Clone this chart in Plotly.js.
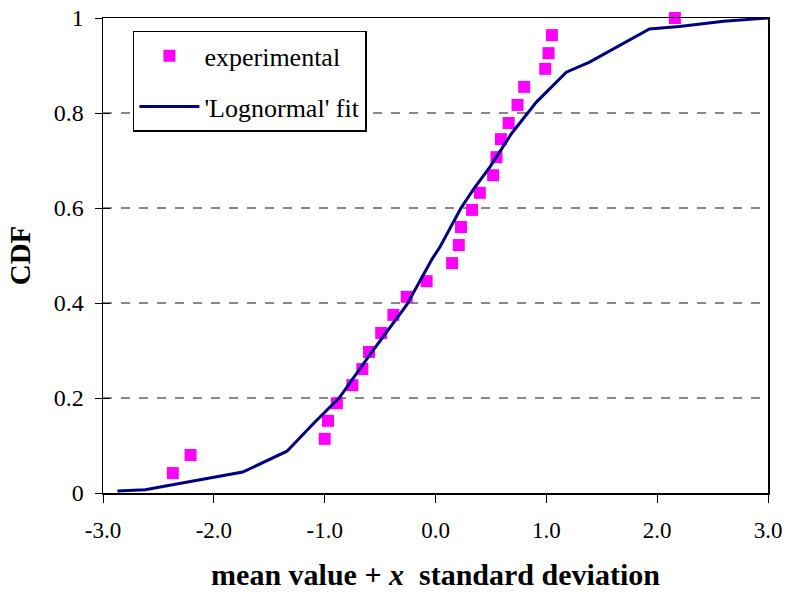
<!DOCTYPE html>
<html>
<head>
<meta charset="utf-8">
<script src="https://cdn.plot.ly/plotly-3.0.1.min.js"></script>
<style>html,body{margin:0;padding:0;background:#fff;}#chart{width:786px;height:598px;}</style>
</head>
<body>
<div id="chart"></div>
<script>
// Experimental points
var expX = [-2.37, -2.21, -1.00, -0.97, -0.89, -0.75, -0.66, -0.60, -0.49, -0.38, -0.26, -0.08, 0.15, 0.21, 0.23, 0.33, 0.40, 0.52, 0.55, 0.59, 0.66, 0.74, 0.80, 0.99, 1.02, 1.05, 2.16];
var expY = [0.042, 0.080, 0.114, 0.152, 0.189, 0.227, 0.261, 0.297, 0.337, 0.375, 0.413, 0.446, 0.484, 0.522, 0.560, 0.596, 0.632, 0.669, 0.707, 0.745, 0.779, 0.817, 0.855, 0.893, 0.926, 0.964, 1.000];
// 'Lognormal' fit
var fitX = [-2.87, -2.62, -1.74, -1.34, -1.09, -0.87, -0.58, -0.26, -0.03, 0.04, 0.23, 0.35, 0.49, 0.69, 0.91, 1.18, 1.39, 1.93, 2.20, 2.60, 3.00];
var fitY = [0.004, 0.007, 0.044, 0.088, 0.149, 0.200, 0.295, 0.396, 0.493, 0.518, 0.600, 0.642, 0.686, 0.758, 0.823, 0.886, 0.907, 0.977, 0.982, 0.993, 1.000];
// Ticks
var xTickVals = [-3, -2, -1, 0, 1, 2, 3];
var xTickText = ["-3.0", "-2.0", "-1.0", "0.0", "1.0", "2.0", "3.0"];
var yTickVals = [0, 0.2, 0.4, 0.6, 0.8, 1];
var yTickText = ["0", "0.2", "0.4", "0.6", "0.8", "1"];

var serif = '"Liberation Serif", serif';
var traces = [
  {x: expX, y: expY, type: "scatter", mode: "markers", name: "experimental", legendgroup: "a",
   marker: {symbol: "square", size: 12, color: "#FF00FF"}, cliponaxis: false},
  {x: fitX, y: fitY, type: "scatter", mode: "lines", name: "'Lognormal' fit", legendgroup: "b",
   line: {color: "#000080", width: 3}},
  {x: [], y: [], type: "scatter", mode: "lines", yaxis: "y2", showlegend: false, hoverinfo: "skip"}
];
var layout = {
  width: 786, height: 598,
  margin: {l: 103, r: 18, t: 18, b: 105},
  paper_bgcolor: "#fff", plot_bgcolor: "#fff",
  font: {family: serif, color: "#000", size: 24},
  showlegend: true,
  legend: {x: 0.045, y: 0.973, xanchor: "left", yanchor: "top", bgcolor: "#fff",
    bordercolor: "#000", borderwidth: 1.5, font: {family: serif, size: 26, color: "#000"},
    itemwidth: 60, tracegroupgap: 14, traceorder: "grouped"},
  xaxis: {range: [-3, 3], tickvals: xTickVals, ticktext: xTickText, ticks: "outside", ticklen: 8,
    tickcolor: "#000", showgrid: false, zeroline: false, showline: true, linecolor: "#000", linewidth: 1.5,
    mirror: true, tickfont: {size: 23, family: serif, color: "#000"}, ticklabelstandoff: 8,
    title: {text: "mean value + <i>x</i>  standard deviation", font: {size: 30, family: serif, weight: "bold", color: "#000"}, standoff: 22}},
  yaxis: {range: [0, 1], tickvals: yTickVals, ticktext: yTickText, ticks: "outside", ticklen: 7,
    tickcolor: "#000", showgrid: true, gridcolor: "#888", griddash: "dash", gridwidth: 1.5,
    zeroline: false, showline: true, linecolor: "#000", linewidth: 1.5, mirror: true,
    tickfont: {size: 24, family: serif, color: "#000"}, ticklabelstandoff: 6,
    title: {text: "CDF", font: {size: 29, family: serif, weight: "bold", color: "#000"}, standoff: 14}},
  yaxis2: {range: [0, 1], overlaying: "y", side: "left", tickvals: yTickVals, ticks: "inside", ticklen: 7,
    tickcolor: "#000", showticklabels: false, showgrid: false, zeroline: false, showline: false}
};
Plotly.newPlot("chart", traces, layout, {displayModeBar: false, staticPlot: true});
</script>
</body>
</html>
